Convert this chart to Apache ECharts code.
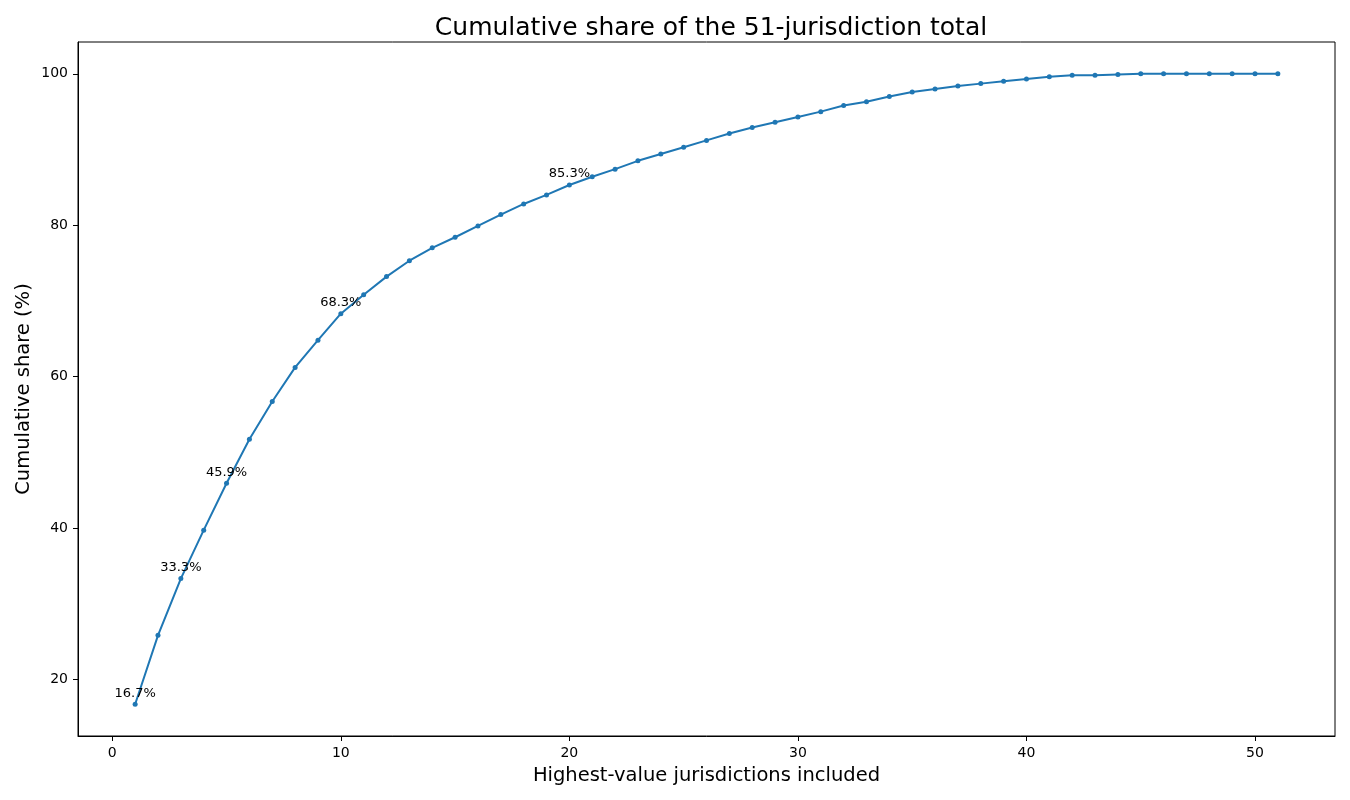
<!DOCTYPE html>
<html>
<head>
<meta charset="utf-8">
<script src="https://cdn.jsdelivr.net/npm/echarts@6/dist/echarts.min.js"></script>
<style>
  html, body { margin: 0; padding: 0; background: #fff; }
  #chart { width: 1350px; height: 800px; }
</style>
</head>
<body>
<div id="chart"></div>
<script>
// jurisdictions included (1..51)
const counts = Array.from({ length: 51 }, (_, i) => i + 1)

// cumulative share, %
const share = [
  16.7, 25.8, 33.3, 39.7, 45.9, 51.7, 56.7, 61.2, 64.8, 68.3,
  70.8, 73.2, 75.3, 77.0, 78.4, 79.9, 81.4, 82.8, 84.0, 85.3,
  86.4, 87.4, 88.5, 89.4, 90.3, 91.2, 92.1, 92.9, 93.6, 94.3,
  95.0, 95.8, 96.3, 97.0, 97.6, 98.0, 98.4, 98.7, 99.0, 99.3,
  99.6, 99.8, 99.8, 99.9, 100.0, 100.0, 100.0, 100.0, 100.0, 100.0,
  100.0
]

// points that carry a text label
const labelled = [1, 3, 5, 10, 20]

const xTicks = [0, 10, 20, 30, 40, 50]
const yTicks = [20, 40, 60, 80, 100]

const font = 'DejaVu Sans'

const chart = echarts.init(document.getElementById('chart'))

const data = counts.map((n, i) => {
  const item = { value: [n, share[i]] }
  if (labelled.includes(n)) {
    item.label = {
      show: true,
      position: 'top',
      distance: 2,
      formatter: share[i].toFixed(1) + '%',
      color: '#000',
      fontSize: 13,
      fontFamily: font,
    }
  }
  return item
})

chart.setOption({
  animation: false,
  title: {
    text: 'Cumulative share of the 51-jurisdiction total',
    left: 706,
    top: 11,
    textAlign: 'center',
    textStyle: { fontSize: 25, fontWeight: 'normal', color: '#000', fontFamily: font },
  },
  grid: {
    left: 78, right: 15, top: 42, bottom: 64,
    outerBoundsMode: 'none',
    containLabel: false,
    show: true, borderColor: '#000', borderWidth: 1,
  },
  xAxis: {
    type: 'value',
    min: -1.5,
    max: 53.5,
    name: 'Highest-value jurisdictions included',
    nameLocation: 'middle',
    nameGap: 30,
    nameTextStyle: { fontSize: 19.5, color: '#000', fontFamily: font },
    axisLine: { onZero: false, lineStyle: { color: '#000', width: 1 } },
    axisTick: { show: true, length: 5, lineStyle: { color: '#000', width: 1 }, customValues: xTicks },
    axisLabel: { fontSize: 14, color: '#000', fontFamily: font, margin: 10, customValues: xTicks },
    splitLine: { show: false },
  },
  yAxis: {
    type: 'value',
    min: 12.5,
    max: 104.2,
    name: 'Cumulative share (%)',
    nameLocation: 'middle',
    nameGap: 44,
    nameMoveOverlap: false,
    nameTextStyle: { fontSize: 19.5, color: '#000', fontFamily: font },
    axisLine: { show: true, onZero: false, lineStyle: { color: '#000', width: 1 } },
    axisTick: { show: true, length: 5, lineStyle: { color: '#000', width: 1 }, customValues: yTicks },
    axisLabel: { fontSize: 14, color: '#000', fontFamily: font, margin: 10, customValues: yTicks },
    splitLine: { show: false },
  },
  series: [{
    type: 'line',
    data: data,
    color: '#1f77b4',
    lineStyle: { width: 2, color: '#1f77b4' },
    symbol: 'circle',
    symbolSize: 5,
    showAllSymbol: true,
    itemStyle: { color: '#1f77b4' },
    label: { show: false },
    labelLayout: { hideOverlap: false },
  }],
})
</script>
</body>
</html>
